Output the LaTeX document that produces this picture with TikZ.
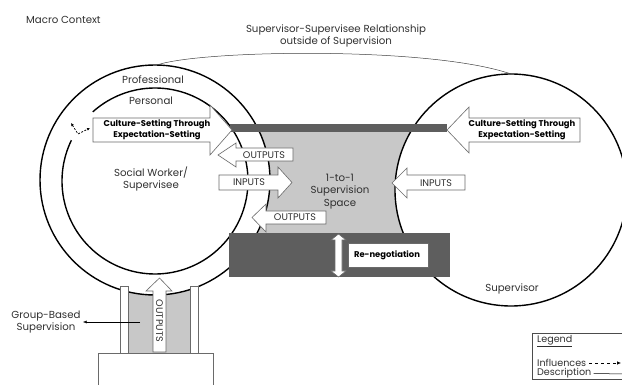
\documentclass[tikz,border=0pt]{standalone}
\usepackage{fontspec}
\setmainfont{Poppins}
\usetikzlibrary{arrows.meta}
\definecolor{lgrey}{HTML}{C8C8C8}
\definecolor{dgrey}{HTML}{5E5E5E}
\definecolor{edgec}{HTML}{6A6A6A}
\definecolor{txt}{HTML}{303030}
\begin{document}
\begin{tikzpicture}[x=1pt,y=-1pt,
  lbl/.style={inner sep=0pt, font=\fontsize{10.2}{12.5}\selectfont, text=txt, align=center},
  albl/.style={inner sep=0pt, font=\fontsize{9.6}{11}\selectfont, text=txt},
  blbl/.style={inner sep=0pt, font=\fontsize{8.4}{11.5}\selectfont\bfseries, text=black, align=center},
  barrow/.style={fill=white, draw=edgec, line width=0.6pt, line join=miter},
  ring/.style={line width=1.4pt, draw=black},
  thin/.style={line width=0.5pt, draw=black!75}]
\useasboundingbox (0,0) rectangle (622,385);
% centres
\coordinate (lc) at (155,180);
\coordinate (ic) at (155,181);
\coordinate (rc) at (511,190);
% grey spaces
\fill[lgrey] (240,132) rectangle (420,234);
\fill[lgrey] (128,270) rectangle (190,353);
% circles
\path[ring, fill=white] (lc) circle[radius=115];
\draw[ring, domain=228:566, samples=150, smooth, variable=\t] plot ({155+93*cos(\t)},{181+93*sin(\t)});
\path[ring, fill=white] (rc) circle[radius=116];
% relationship curve
\coordinate (relA) at (157,65);
\coordinate (relB) at (511,74);
\draw[thin] (relA) .. controls (200,50) and (430,46) .. (relB);
% dark bar and negotiation block
\fill[dgrey] (230,124) rectangle (447,132);
\fill[dgrey] (229,233) rectangle (450,277);
% culture arrows
\draw[barrow] (93,118) -- (210,118) -- (210,105) -- (232,130) -- (210,155) -- (210,142) -- (93,142) -- cycle;
\draw[barrow] (580,118) -- (469,118) -- (469,107) -- (447,130) -- (469,153) -- (469,142) -- (580,142) -- cycle;
\node[blbl] (cultL) at (157,130) {Culture-Setting Through\\Expectation-Setting};
\node[blbl] (cultR) at (522,130) {Culture-Setting Through\\Expectation-Setting};
% outputs / inputs
\draw[barrow] (293,148) -- (236,148) -- (236,143) -- (218,155) -- (236,167) -- (236,161) -- (293,161) -- cycle;
\node[albl] (out1) at (264,155) {OUTPUTS};
\draw[barrow] (219,175) -- (278,175) -- (278,167) -- (292,182.5) -- (278,198) -- (278,190) -- (219,190) -- cycle;
\node[albl] (in1) at (249,182.5) {INPUTS};
\draw[barrow] (326,211) -- (266,211) -- (266,204) -- (252,217.5) -- (266,232) -- (266,224) -- (326,224) -- cycle;
\node[albl] (out2) at (295,217.5) {OUTPUTS};
\draw[barrow] (465,175) -- (407,175) -- (407,168) -- (392,183) -- (407,198) -- (407,190) -- (465,190) -- cycle;
\node[albl] (in2) at (436,183) {INPUTS};
% re-negotiation
\draw[barrow] (335,240) -- (331,240) -- (338.5,234) -- (346,240) -- (342,240) -- (342,271) -- (346,271) -- (338.5,277) -- (331,271) -- (335,271) -- cycle;
\draw[barrow] (348,243) rectangle (428,267);
\node[blbl] (reneg) at (387,255) {Re-negotiation};
% group based supervision
\draw[barrow] (120,286) rectangle (128,353);
\draw[barrow] (190,286) rectangle (198,353);
\draw[barrow] (98,353) rectangle (213,392);
\draw[barrow] (153,352) -- (153,291) -- (146,291) -- (159.5,278) -- (172,291) -- (166,291) -- (166,352) -- cycle;
\node[albl, rotate=-90] (vout) at (159.5,321) {OUTPUTS};
\coordinate (gbs) at (140,322);
\node[lbl] (gbl) at (46,322) {Group-Based\\Supervision};
\draw[line width=0.4pt, -{Latex[length=3.5pt,width=3pt]}] (gbs) -- (83,322);
% influences mark
\coordinate (inf1) at (71,123);
\coordinate (inf2) at (90,128);
\draw[line width=0.7pt, dashed, dash pattern=on 2pt off 1.5pt, {Latex[length=3pt,width=3pt]}-{Latex[length=3pt,width=3pt]}] (inf1) -- (78,134) -- (inf2);
% labels
\node[lbl, anchor=west] (macro) at (26,20) {Macro Context};
\node[lbl] (rel) at (336,36) {Supervisor-Supervisee Relationship\\outside of Supervision};
\node[lbl] (prof) at (153,80) {Professional};
\node[lbl] (pers) at (151,101) {Personal};
\node[lbl] (sw) at (151,179) {Social Worker/\\Supervisee};
\node[lbl] (space) at (340,191.5) {1-to-1\\Supervision\\Space};
\node[lbl] (sup) at (512,289) {Supervisor};
% legend
\draw[line width=0.6pt, draw=black!70] (625,333) -- (532,333) -- (532,379) -- (625,379);
\node[albl, anchor=west] (leg) at (537,341) {\underline{Legend}};
\node[albl, anchor=west] (infl) at (537,363) {Influences};
\node[albl, anchor=west] (desc) at (537,373.5) {Description};
\coordinate (infE) at (621,363);
\coordinate (descE) at (625,374);
\draw[line width=0.6pt, dashed, -{Latex[length=4pt,width=3.5pt]}] (infl.east) ++(3,0) -- (infE);
\draw[line width=0.5pt] (desc.east) ++(2,0) -- (descE);
\end{tikzpicture}
\end{document}
